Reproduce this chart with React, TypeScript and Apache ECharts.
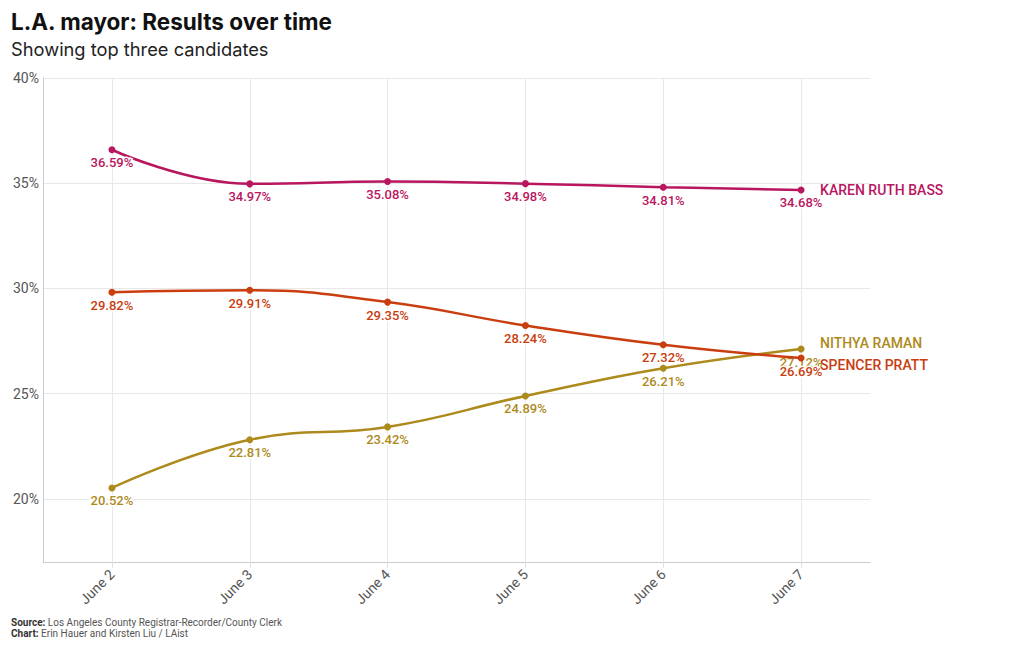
import React, { useEffect, useRef } from "react";
import * as echarts from "echarts";

const categories = ["June 2", "June 3", "June 4", "June 5", "June 6", "June 7"];
const bass = [36.59, 34.97, 35.08, 34.98, 34.81, 34.68];
const pratt = [29.82, 29.91, 29.35, 28.24, 27.32, 26.69];
const raman = [20.52, 22.81, 23.42, 24.89, 26.21, 27.12];
const seriesNames = ["KAREN RUTH BASS", "NITHYA RAMAN", "SPENCER PRATT"];
const yMin = 17;
const yMax = 40;

const COLORS = { bass: "#b8165f", raman: "#ad8a1c", pratt: "#c93d0e" };
const FONT = "Roboto";

function makeSeries(name: string, data: number[], color: string, endDy: number, z: number) {
  return {
    name,
    type: "line",
    data,
    smooth: 0.45,
    z,
    symbol: "circle",
    symbolSize: 7,
    lineStyle: { color, width: 2.5 },
    itemStyle: { color },
    label: {
      show: true,
      position: "bottom",
      distance: 3,
      formatter: (p: any) => p.value.toFixed(2) + "%",
      color,
      fontFamily: FONT,
      fontSize: 13,
      fontWeight: 500,
      textBorderColor: "#fff",
      textBorderWidth: 3,
    },
    endLabel: {
      show: true,
      formatter: "{a}",
      distance: 19,
      offset: [0, endDy],
      color,
      fontFamily: FONT,
      fontSize: 14,
      fontWeight: 500,
    },
    labelLayout: { hideOverlap: false },
    emphasis: { disabled: true },
  };
}

export default function App() {
  const ref = useRef<HTMLDivElement>(null);
  useEffect(() => {
    if (!ref.current) return;
    const chart = echarts.init(ref.current, null, { renderer: "svg" });
    const option: any = {
      animation: false,
      backgroundColor: "#fff",
      textStyle: { fontFamily: FONT },
      title: [
        {
          text: "L.A. mayor: Results over time",
          left: 6,
          top: 5,
          textStyle: { fontFamily: "Inter", fontSize: 22.5, fontWeight: "bold", color: "#111" },
        },
        {
          text: "Showing top three candidates",
          left: 6,
          top: 35,
          textStyle: { fontFamily: "Inter", fontSize: 18.3, fontWeight: "normal", color: "#222" },
        },
      ],
      graphic: [
        {
          type: "text",
          left: 11,
          top: 617,
          style: {
            text: "{b|Source:} Los Angeles County Registrar-Recorder/County Clerk",
            rich: {
              b: { fontFamily: FONT, fontSize: 10, fontWeight: "bold", fill: "#333" },
            },
            fontFamily: FONT,
            fontSize: 10,
            fill: "#555",
          },
        },
        {
          type: "text",
          left: 11,
          top: 628,
          style: {
            text: "{b|Chart:} Erin Hauer and Kirsten Liu / LAist",
            rich: {
              b: { fontFamily: FONT, fontSize: 10, fontWeight: "bold", fill: "#333" },
            },
            fontFamily: FONT,
            fontSize: 10,
            fill: "#555",
          },
        },
      ],
      grid: { left: 43, right: 150, top: 78, bottom: 88, containLabel: false },
      xAxis: {
        type: "category",
        data: categories,
        boundaryGap: true,
        axisLine: { show: true, lineStyle: { color: "#cccccc", width: 1 } },
        axisTick: { show: true, alignWithLabel: true, length: 6, lineStyle: { color: "#e2e2e2" } },
        axisLabel: {
          rotate: 45,
          margin: 10,
          color: "#555",
          fontFamily: FONT,
          fontSize: 14,
        },
        splitLine: { show: false },
      },
      yAxis: {
        type: "value",
        min: yMin,
        max: yMax,
        splitNumber: 5,
        axisLine: { show: true, lineStyle: { color: "#cccccc", width: 1 } },
        axisTick: { show: false },
        axisLabel: {
          showMinLabel: false,
          margin: 4,
          color: "#555",
          fontFamily: FONT,
          fontSize: 14,
          formatter: (v: number) => (v % 5 === 0 ? v + "%" : ""),
        },
        splitLine: { show: true, lineStyle: { color: "#e8e8e8", width: 1 } },
      },
      series: [
        {
          type: "line",
          data: [],
          silent: true,
          z: 1,
          markLine: {
            z: 1,
            silent: true,
            symbol: "none",
            label: { show: false },
            lineStyle: { color: "#e8e8e8", type: "solid", width: 1 },
            data: categories.map((c) => ({ xAxis: c })),
          },
        },
        makeSeries(seriesNames[0], bass, COLORS.bass, 0, 3),
        makeSeries(seriesNames[1], raman, COLORS.raman, -6, 4),
        makeSeries(seriesNames[2], pratt, COLORS.pratt, 7, 5),
      ],
    };
    chart.setOption(option);
    return () => chart.dispose();
  }, []);
  return (
    <div
      ref={ref}
      style={{ position: "fixed", left: 0, top: 0, width: 1020, height: 650 }}
    />
  );
}
